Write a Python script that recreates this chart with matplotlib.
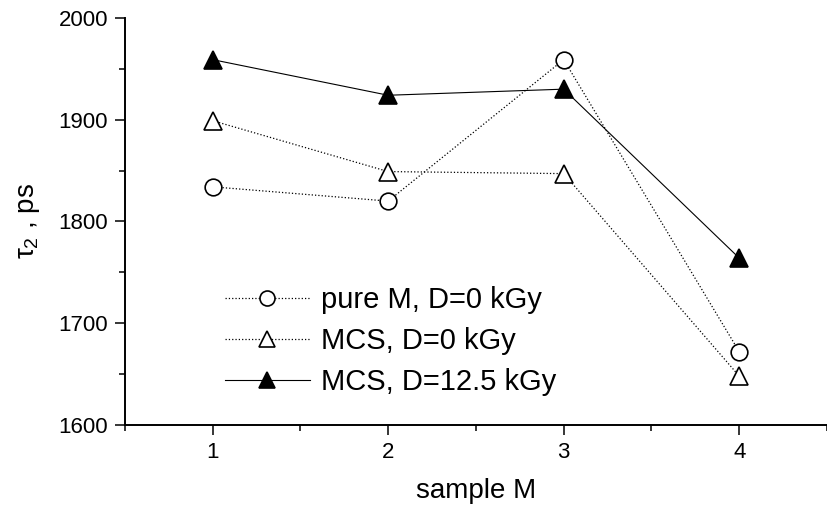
import matplotlib
matplotlib.use("Agg")
import matplotlib.pyplot as plt
from matplotlib.ticker import MultipleLocator

plt.rcParams['font.family'] = ['Liberation Sans', 'DejaVu Sans']
plt.rcParams['mathtext.fontset'] = 'custom'
plt.rcParams['mathtext.rm'] = 'Liberation Sans'
plt.rcParams['mathtext.it'] = 'Liberation Sans'

samples = [1, 2, 3, 4]
pure_m_0 = [1834, 1820, 1959, 1672]
mcs_0 = [1899, 1849, 1847, 1648]
mcs_125 = [1959, 1924, 1930, 1764]

fig = plt.figure(figsize=(8.27, 5.12), dpi=100)
ax = fig.add_axes([0.151, 0.170, 0.849, 0.795])

ax.plot(samples, pure_m_0, color='black', linestyle=':', linewidth=0.9,
        marker='o', markersize=12, markerfacecolor='white',
        markeredgewidth=1.2, label='pure M, D=0 kGy')
ax.plot(samples, mcs_0, color='black', linestyle=':', linewidth=0.9,
        marker='^', markersize=13, markerfacecolor='white',
        markeredgewidth=1.2, label='MCS, D=0 kGy')
ax.plot(samples, mcs_125, color='black', linestyle='-', linewidth=0.8,
        marker='^', markersize=13, markerfacecolor='black',
        markeredgewidth=1.2, label='MCS, D=12.5 kGy')

ax.set_xlim(0.5, 4.5)
ax.set_ylim(1600, 2000)
ax.xaxis.set_major_locator(MultipleLocator(1))
ax.xaxis.set_minor_locator(MultipleLocator(0.5))
ax.yaxis.set_major_locator(MultipleLocator(100))
ax.yaxis.set_minor_locator(MultipleLocator(50))

for s in ['top', 'right']:
    ax.spines[s].set_visible(False)
for s in ['left', 'bottom']:
    ax.spines[s].set_linewidth(1.4)

ax.tick_params(which='major', direction='out', length=7, width=1.1,
               labelsize=16, pad=5)
ax.tick_params(which='minor', direction='out', length=4, width=1.1)

ax.set_xlabel('sample M', fontsize=20, labelpad=11)
ax.set_ylabel(r'$\tau_2$ , ps', fontsize=20, labelpad=12)

ax.legend(loc='upper left', bbox_to_anchor=(0.126, 0.37), frameon=False,
          fontsize=21, handlelength=2.9, handletextpad=0.4,
          labelspacing=0.45, borderaxespad=0, markerscale=0.9)

fig.savefig('out.png', dpi=100)
